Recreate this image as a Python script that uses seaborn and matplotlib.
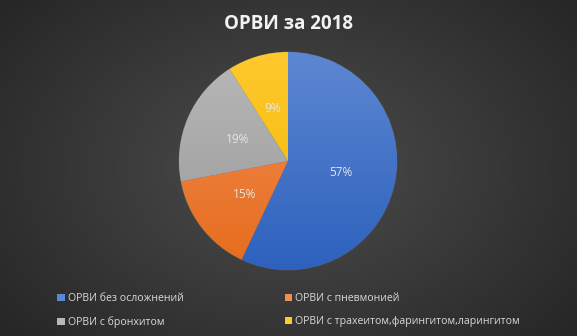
import numpy as np
import matplotlib
matplotlib.use("Agg")
import matplotlib.pyplot as plt
import matplotlib.colors as mcolors
from matplotlib.patches import Patch
import seaborn as sns

categories = ["ОРВИ без осложнений", "ОРВИ с пневмонией",
              "ОРВИ с бронхитом", "ОРВИ с трахеитом,фарингитом,ларингитом"]
values = [57, 15, 19, 9]
title = "ОРВИ за 2018"

sns.set_theme(style="dark")
plt.rcParams['font.family'] = ['Open Sans', 'DejaVu Sans']

# цвета: светлый верх / тёмный низ
tops = ["#5d87d2", "#f28d55", "#b8b8b8", "#ffc92e"]
bottoms = ["#2d61bd", "#e66c1c", "#989898", "#efb500"]

fig = plt.figure(figsize=(5.77, 3.36), dpi=100)

# радиальный фон
bg = fig.add_axes([0, 0, 1, 1], zorder=0)
yy, xx = np.mgrid[-1:1:336j, -1:1:577j]
r = np.sqrt((xx * 0.9) ** 2 + (yy * 0.75) ** 2)
bg_cmap = mcolors.LinearSegmentedColormap.from_list("bg", ["#4d4d4d", "#252525"])
bg.imshow(r, cmap=bg_cmap, aspect="auto", vmin=0, vmax=1.2)
bg.axis("off")

ax = fig.add_axes([(288 - 109) / 577, (336 - 270) / 336, 218 / 577, 218 / 336], zorder=1)
ax.set_facecolor("none")
wedges, texts, autotexts = ax.pie(
    values, colors=tops, startangle=90, counterclock=False,
    autopct="%1.0f%%", pctdistance=0.5,
    wedgeprops=dict(linewidth=0.6, edgecolor="#555555"),
    textprops=dict(color="#e6e6e6", fontsize=8.5))
ax.set_xlim(-1, 1)
ax.set_ylim(-1, 1)
ax.set_aspect("equal")

grad = np.linspace(0, 1, 256).reshape(-1, 1)
for w, t, b in zip(wedges, tops, bottoms):
    cm = mcolors.LinearSegmentedColormap.from_list("g", [b, t])
    im = ax.imshow(grad, cmap=cm, extent=[-1, 1, -1, 1], origin="lower",
                   aspect="auto", zorder=1.5)
    im.set_clip_path(w)
for a in autotexts:
    a.set_zorder(3)

fig.text(0.5, 0.93, title, ha="center", va="center", color="#f2f2f2",
         fontsize=13.5, fontweight="bold")

# легенда построчно: порядок по столбцам
order = [0, 2, 1, 3]
handles = [Patch(facecolor=tops[i], edgecolor="none") for i in order]
labels = [categories[i] for i in order]
fig.legend(handles, labels, ncol=2, loc="upper left",
           bbox_to_anchor=(52 / 577, 1 - 288 / 336), frameon=False,
           fontsize=7.6, labelcolor="#d9d9d9", handlelength=0.7,
           handleheight=0.7, handletextpad=0.3, columnspacing=9.6,
           labelspacing=1.15, borderpad=0)

fig.savefig("out.png", dpi=100)
